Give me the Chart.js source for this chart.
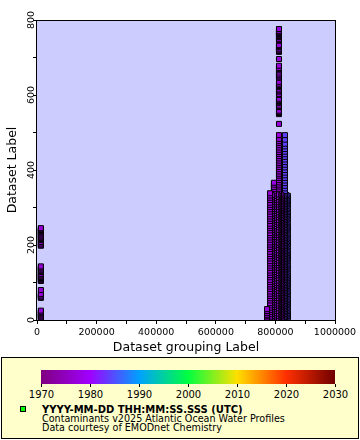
<!DOCTYPE html>
<html>
<head>
<meta charset="utf-8">
<script src="https://cdn.jsdelivr.net/npm/chart.js@4.4.1/dist/chart.umd.min.js"></script>
<style>
  body { margin: 0; background: #fff; font-family: "DejaVu Sans", sans-serif; color: #000; }
  #wrap { position: relative; width: 360px; height: 440px; overflow: hidden; }
  #chart { position: absolute; left: 0; top: 0; }
  #legend { position: absolute; left: 1px; top: 357px; width: 358px; height: 82px; box-sizing: border-box; border: 1px solid #000; background: #ffffcc; }
  #bar { position: absolute; left: 41px; top: 370px; width: 294px; height: 14px; }
  .tick { position: absolute; top: 384px; width: 1px; height: 3px; background: #000; }
  .tlab { position: absolute; top: 390px; width: 40px; text-align: center; font-size: 10px; line-height: 10px; }
  .line { position: absolute; left: 42px; white-space: nowrap; line-height: 10px; }
  #marker { position: absolute; left: 20px; top: 406px; width: 4px; height: 4px; border: 1px solid #000; background: #00ff00; }
</style>
</head>
<body>
<div id="wrap">
  <canvas id="chart" width="360" height="356"></canvas>
  <div id="legend"></div>
  <div id="bar"></div>
  <div id="marker"></div>
  <div class="line" style="top:405px;font-size:10px;font-weight:bold;">YYYY-MM-DD THH:MM:SS.SSS (UTC)</div>
  <div class="line" style="top:414px;font-size:9.6px;">Contaminants v2025 Atlantic Ocean Water Profiles</div>
  <div class="line" style="top:423px;font-size:9.6px;">Data courtesy of EMODnet Chemistry</div>
</div>
<script>
// colour bar (time axis of the points)
const barYears = [1970, 1980, 1990, 2000, 2010, 2020, 2030];
const barColors = ["#800080", "#a000ff", "#00a0ff", "#00ff40", "#ffe000", "#ff3000", "#700000"];

// one entry per profile: grouping value (x) and year (colour)
const profileIds = [13000, 772000, 782000, 788000, 795000, 803000, 807000, 812000, 817000, 822000, 827000, 832000, 837000, 842000];
const profileYears = [1977, 1977, 1977, 1978, 1978, 1977, 1978, 1977, 1978, 1979, 1982, 1984, 1984, 1984];

// depth values (y) of each profile
const depthsWest = [3, 6, 9, 12, 15, 18, 21, 25, 59, 62, 65, 69, 80,
  104, 106, 109, 112, 115, 118, 121, 123, 128, 131, 134, 137, 140, 143,
  198, 201, 204, 208, 213, 216, 219, 222, 225, 228, 231, 234, 237, 240, 242, 245];
const depths772 = [2, 6, 10, 14, 19, 24, 29];
const depths782 = [3, 9, 15, 21, 27, 33, 39, 45, 52, 58, 64, 70, 76, 83, 89, 95, 101, 107, 114, 120,
  126, 132, 139, 145, 151, 157, 164, 170, 176, 182, 189, 195, 201, 207, 214, 220, 226, 232, 239, 245,
  251, 257, 264, 270, 276, 282, 289, 295, 301, 307, 313, 320, 326, 332, 338];
const depths788 = [4, 10, 16, 22, 28, 34, 40, 47, 53, 59, 65, 71, 78, 84, 90, 96, 102, 109, 115, 121,
  127, 133, 140, 146, 152, 158, 165, 171, 177, 183, 190, 196, 202, 208, 215, 221, 227, 233, 240, 246,
  252, 258, 265, 271, 277, 283, 290, 296, 302, 308, 315, 321, 327, 333];
const depths795 = [1, 7, 12, 18, 24, 30, 35, 41, 47, 53, 59, 64, 70, 76, 82, 88, 93, 99, 105, 111,
  117, 122, 128, 134, 140, 146, 151, 157, 163, 169, 175, 180, 186, 192, 198, 204, 209, 215, 221, 227,
  233, 238, 244, 250, 256, 262, 267, 273, 279, 285, 291, 296, 302, 308, 314, 320, 325, 331, 337, 343,
  349, 355, 361, 366];
const depths803 = [4, 11, 17, 24, 31, 38, 44, 51, 58, 65, 71, 78, 85, 92, 98, 105, 112, 119, 125, 132,
  139, 146, 152, 159, 166, 173, 179, 186, 193, 200, 206, 213, 220, 227, 233, 240, 247, 254, 260, 267,
  274, 281, 287, 294, 301, 308, 314, 321, 328, 335];
const depths807 = [2, 9, 15, 21, 27, 34, 40, 46, 52, 59, 65, 71, 77, 84, 90, 96, 102, 109, 115, 121,
  127, 134, 140, 146, 152, 159, 165, 171, 177, 184, 190, 196, 202, 209, 215, 221, 227, 234, 240, 246,
  252, 259, 265, 271, 277, 284, 290, 296, 302, 309, 315, 321, 327, 334];
const depths812 = [2, 8, 13, 19, 25, 31, 37, 42, 48, 54, 60, 66, 71, 77, 83, 89, 95, 100, 106, 112,
  118, 124, 129, 135, 141, 147, 153, 158, 164, 170, 176, 182, 187, 193, 199, 205, 211, 216, 222, 228,
  234, 240, 245, 251, 257, 263, 269, 274, 280, 286, 292, 298, 303, 309, 315, 321, 327, 332, 338, 344,
  350, 356, 361, 367, 373, 379, 385, 390, 396, 402, 408, 414, 419, 425, 431, 437, 443, 448, 454, 460,
  466, 472, 477, 483, 493, 523,
  549, 552, 555, 558, 568, 570, 572, 578, 581, 584, 587, 590, 600, 603, 609, 612, 615, 621, 624, 627,
  630, 635, 646, 649, 652, 655, 660, 666, 669, 672, 678, 696,
  715, 717, 719, 722, 727, 729, 731, 733, 745, 747, 750, 755, 757, 759, 761, 763, 765, 767, 769, 771, 776];
const depths817 = [3, 10, 16, 22, 29, 35, 41, 47, 54, 60, 66, 72, 79, 85, 91, 97, 104, 110, 116, 122,
  129, 135, 141, 147, 154, 160, 166, 172, 179, 185, 191, 197, 204, 210, 216, 222, 229, 235, 241, 247,
  254, 260, 266, 272, 279, 285, 291, 297, 304, 310, 316, 322, 329, 335];
const depths822 = [5, 12, 19, 26, 33, 39, 46, 53, 60, 67, 73, 80, 87, 94, 101, 107, 114, 121, 128, 135,
  141, 148, 155, 162, 169, 175, 182, 189, 196, 203, 209, 216, 223, 230, 237, 243, 250, 257, 264, 271,
  277, 284, 291, 298, 305, 311, 318, 325, 332];
const depths827 = [2, 9, 16, 23, 30, 37, 44, 51, 58, 65, 72, 79, 86, 93, 100, 107, 114, 121, 128, 135,
  142, 149, 156, 163, 170, 177, 184, 191, 198, 205, 212, 219, 226, 233, 240, 247, 254, 261, 268, 275,
  282, 289, 296, 303, 310, 317, 324, 331];
const depths832 = [1, 8, 15, 22, 29, 36, 43, 50, 57, 64, 71, 78, 85, 92, 99, 106, 113, 120, 127, 134,
  141, 148, 155, 162, 169, 176, 183, 190, 197, 204, 211, 218, 225, 232, 239, 246, 253, 260, 267, 274,
  281, 288, 295, 302, 309, 316, 323, 330, 337, 344, 351, 358, 365, 372, 379, 386, 393, 400, 407, 414,
  421, 428, 435, 442, 449, 456, 463, 470, 481, 493];
const depths837 = [4, 10, 18, 25, 32, 40, 47, 54, 62, 69, 76, 84, 91, 98, 106, 113, 120, 128, 135, 142,
  150, 157, 164, 172, 179, 186, 194, 201, 208, 216, 223, 230, 238, 245, 252, 260, 267, 274, 282, 289,
  296, 304, 311, 318, 326, 333];
const depths842 = [5, 11, 17, 24, 37, 43, 49, 56, 69, 77, 90, 97, 104, 111, 118, 125, 138, 147, 160, 166,
  172, 178, 184, 197, 204, 211, 218, 229, 242, 248, 258, 271, 279, 288, 298, 310, 316, 322, 331];

const profileDepths = [depthsWest, depths772, depths782, depths788, depths795, depths803, depths807,
  depths812, depths817, depths822, depths827, depths832, depths837, depths842];

function hexRgb(h) {
  return [1, 3, 5].map(i => parseInt(h.substr(i, 2), 16));
}
function yearColor(year) {
  const t = (year - barYears[0]) / (barYears[1] - barYears[0]);
  const i = Math.max(0, Math.min(Math.floor(t), barColors.length - 2));
  const f = t - i;
  const a = hexRgb(barColors[i]), b = hexRgb(barColors[i + 1]);
  const c = a.map((v, k) => Math.round(v + (b[k] - v) * f));
  return "rgb(" + c.join(",") + ")";
}

// legend colour bar
const span = barYears[barYears.length - 1] - barYears[0];
document.getElementById("bar").style.background = "linear-gradient(to right, " +
  barColors.map((c, i) => c + " " + ((barYears[i] - barYears[0]) / span * 100).toFixed(2) + "%").join(", ") + ")";
const wrap = document.getElementById("wrap");
barYears.forEach(y => {
  const px = 41 + (y - barYears[0]) / span * 294;
  const t = document.createElement("div");
  t.className = "tick";
  t.style.left = Math.round(px) + "px";
  wrap.appendChild(t);
  const l = document.createElement("div");
  l.className = "tlab";
  l.style.left = (px - 20 + 0.5) + "px";
  l.textContent = y;
  wrap.appendChild(l);
});

const datasets = profileIds.map((id, i) => ({
  data: profileDepths[i].map(d => ({ x: id, y: d })),
  pointStyle: "rect",
  pointRadius: 3.54,
  pointBackgroundColor: yearColor(profileYears[i]),
  pointBorderColor: "#000",
  pointBorderWidth: 1,
  showLine: false,
  clip: 0,
}));

const plotFrame = {
  id: "plotFrame",
  beforeDraw(chart) {
    const { ctx, chartArea: a } = chart;
    ctx.save();
    ctx.fillStyle = "#ccccff";
    ctx.fillRect(a.left, a.top, a.width, a.height);
    ctx.restore();
  },
  afterDatasetsDraw(chart) {
    const { ctx, chartArea: a } = chart;
    ctx.save();
    ctx.strokeStyle = "#000";
    ctx.lineWidth = 1;
    ctx.strokeRect(a.left - 0.5, a.top + 0.5, a.width + 1, a.height);
    ctx.restore();
  },
};

const tickFont = { family: "DejaVu Sans", size: 9.5 };
const titleFont = { family: "DejaVu Sans", size: 12.5 };

new Chart(document.getElementById("chart"), {
  type: "scatter",
  data: { datasets },
  plugins: [plotFrame],
  options: {
    responsive: false,
    animation: false,
    events: [],
    layout: { padding: { top: 20, right: 25, left: 0, bottom: 0 } },
    plugins: { legend: { display: false }, tooltip: { enabled: false } },
    scales: {
      x: {
        type: "linear",
        min: 0,
        max: 1000000,
        afterFit: s => { s.height = 36; },
        ticks: {
          stepSize: 100000,
          autoSkip: false,
          maxRotation: 0,
          padding: 3,
          color: "#000",
          font: tickFont,
          callback: v => (v % 200000 === 0 ? String(v) : ""),
        },
        grid: { drawOnChartArea: false, color: "#000", tickLength: 4 },
        border: { display: false },
        title: { display: true, text: "Dataset grouping Label", color: "#000", font: titleFont, padding: { top: 0, bottom: 1 } },
      },
      y: {
        type: "linear",
        min: 0,
        max: 800,
        afterFit: s => { s.width = 37; },
        ticks: {
          stepSize: 100,
          autoSkip: false,
          minRotation: 90,
          maxRotation: 90,
          crossAlign: "center",
          padding: -8,
          color: "#000",
          font: tickFont,
          callback: v => (v % 200 === 0 ? String(v) : ""),
        },
        grid: { drawOnChartArea: false, color: "#000", tickLength: 4 },
        border: { display: false },
        title: { display: true, text: "Dataset Label", color: "#000", font: titleFont, padding: { top: 5, bottom: 0 } },
      },
    },
  },
});
</script>
</body>
</html>
